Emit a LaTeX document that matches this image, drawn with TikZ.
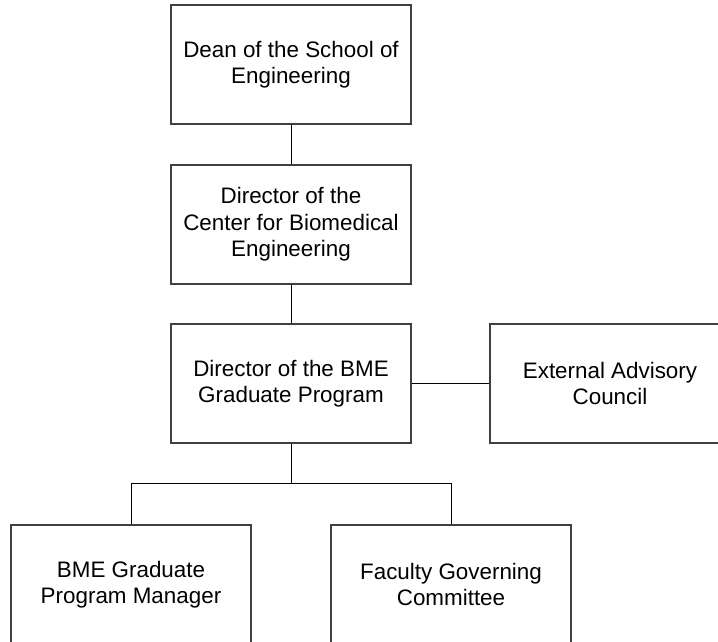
\documentclass[tikz,border=0pt]{standalone}
\usepackage{fontspec}
\setmainfont{Liberation Sans}
\tikzset{
    BX/.style ={rectangle,minimum width = 120pt, minimum height = 59.5pt, draw=black!75, line width=0.6pt,
                align=center, inner sep=0pt, font=\fontsize{11.2}{13.2}\selectfont},
    LN/.style ={black, line width=0.5pt}}
\begin{document}
\begin{tikzpicture}[x=0.5pt,y=0.5pt]
        \clip (0,0) rectangle (718,642);
        \node[BX] (1) at(291,577.5){Dean of the School of\\Engineering};
        \node[BX] (2) at(291,417.5){Director of the\\Center for Biomedical\\Engineering};
        \node[BX] (3) at(291,258.5){Director of the BME\\Graduate Program};
        \node[BX] (4) at(610,258.5){External Advisory\\Council};
        \node[BX] (5) at(131,57.5){BME Graduate\\Program Manager};
        \node[BX] (6) at(451,57.5){Faculty Governing\\Committee};
        \coordinate (b) at(291,158);
        \draw[LN] (1) --(2);
        \draw[LN] (2) --(3);
        \draw[LN] (3) --(4);
        \draw[LN] (3) --(b);
        \draw[LN] (b) -|(5);
        \draw[LN] (b) -|(6);
    \end{tikzpicture}
\end{document}
